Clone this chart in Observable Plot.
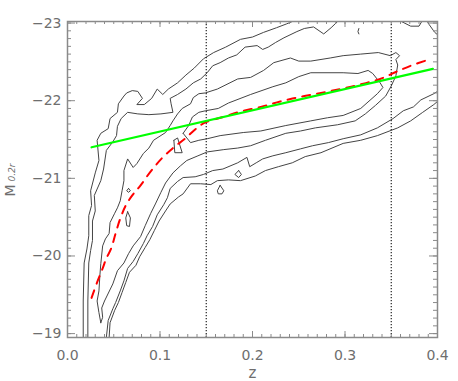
<!DOCTYPE html>
<html><head><meta charset="utf-8">
<script src="https://cdn.jsdelivr.net/npm/d3@7"></script>
<script src="https://cdn.jsdelivr.net/npm/@observablehq/plot@0.6"></script>
<style>html,body{margin:0;padding:0;background:#fff;} #chart{width:458px;height:381px;}</style>
</head><body><div id="chart"></div>
<script>
// ---- data (z, M_0.2r) ----
const xMajor = [0, 0.1, 0.2, 0.3, 0.4];
const yMajor = [-23, -22, -21, -20, -19];
const xMinor = d3.range(0, 41).map(i => i / 100);
const yMinor = d3.range(190, 231).map(i => -i / 10);
const cutLines = [0.15, 0.35];

const greenLine = [[0.026,-21.40],[0.395,-22.41]];
const redCurve = [[0.026,-19.46],[0.032,-19.66],[0.038,-19.84],[0.042,-19.97],[0.047,-20.09],[0.052,-20.29],[0.057,-20.48],[0.063,-20.65],[0.070,-20.78],[0.079,-20.91],[0.090,-21.09],[0.103,-21.27],[0.116,-21.41],[0.127,-21.51],[0.138,-21.63],[0.149,-21.72],[0.168,-21.79],[0.187,-21.86],[0.209,-21.92],[0.230,-21.99],[0.252,-22.05],[0.274,-22.10],[0.295,-22.15],[0.317,-22.21],[0.338,-22.28],[0.355,-22.37],[0.371,-22.45],[0.391,-22.53]];

const contourA = [[0.017,-18.95],[0.017,-19.42],[0.018,-19.91],[0.021,-20.09],[0.023,-20.26],[0.023,-20.52],[0.026,-20.65],[0.025,-20.84],[0.030,-21.07],[0.034,-21.23],[0.032,-21.49],[0.036,-21.58],[0.044,-21.64],[0.046,-21.77],[0.054,-21.85],[0.055,-21.96],[0.061,-22.06],[0.064,-22.10],[0.070,-22.13],[0.076,-22.12],[0.081,-22.03],[0.075,-21.95],[0.083,-21.95],[0.091,-22.03],[0.097,-22.15],[0.103,-22.08],[0.109,-22.15],[0.119,-22.23],[0.128,-22.33],[0.137,-22.42],[0.147,-22.54],[0.158,-22.62],[0.171,-22.69],[0.187,-22.79],[0.200,-22.82],[0.212,-22.88],[0.226,-22.94],[0.237,-22.99],[0.243,-23.02]];
const contourB = [[0.022,-18.95],[0.022,-19.42],[0.023,-19.91],[0.025,-20.07],[0.027,-20.20],[0.027,-20.45],[0.030,-20.58],[0.029,-20.78],[0.036,-20.97],[0.039,-21.12],[0.042,-21.36],[0.049,-21.47],[0.053,-21.55],[0.054,-21.67],[0.058,-21.77],[0.065,-21.85],[0.076,-21.83],[0.088,-21.82],[0.101,-21.83],[0.114,-21.85],[0.112,-21.96],[0.111,-22.03],[0.119,-22.08],[0.128,-22.15],[0.136,-22.23],[0.144,-22.28],[0.151,-22.36],[0.157,-22.45],[0.165,-22.49],[0.174,-22.55],[0.183,-22.59],[0.192,-22.69],[0.205,-22.71],[0.211,-22.66],[0.217,-22.69],[0.225,-22.75],[0.234,-22.81],[0.248,-22.89],[0.256,-22.93],[0.266,-22.95],[0.277,-22.86],[0.285,-22.94],[0.292,-23.02]];
const contourC = [[0.036,-19.14],[0.034,-19.27],[0.032,-19.42],[0.034,-19.55],[0.035,-19.75],[0.036,-19.90],[0.038,-20.13],[0.041,-20.22],[0.045,-20.29],[0.046,-20.43],[0.051,-20.55],[0.054,-20.62],[0.057,-20.71],[0.059,-20.84],[0.061,-20.97],[0.061,-21.10],[0.065,-21.25],[0.071,-21.14],[0.075,-21.19],[0.082,-21.32],[0.088,-21.39],[0.093,-21.49],[0.106,-21.59],[0.111,-21.68],[0.114,-21.74],[0.119,-21.83],[0.124,-21.90],[0.133,-21.96],[0.136,-22.04],[0.142,-22.09],[0.149,-22.10],[0.162,-22.15],[0.184,-22.28],[0.198,-22.30],[0.212,-22.39],[0.223,-22.49],[0.241,-22.55],[0.250,-22.51],[0.263,-22.51],[0.284,-22.55],[0.298,-22.58],[0.317,-22.60],[0.336,-22.62],[0.349,-22.58],[0.355,-22.62],[0.359,-22.58],[0.355,-22.53],[0.357,-22.46],[0.355,-22.32],[0.350,-22.19],[0.344,-22.06],[0.333,-21.94],[0.322,-21.83],[0.311,-21.74],[0.292,-21.69],[0.268,-21.65],[0.252,-21.61],[0.236,-21.58],[0.214,-21.49],[0.198,-21.42],[0.184,-21.39],[0.169,-21.37],[0.151,-21.34],[0.141,-21.29],[0.129,-21.23],[0.122,-21.16],[0.114,-21.07],[0.106,-20.94],[0.101,-20.82],[0.095,-20.67],[0.090,-20.55],[0.084,-20.39],[0.079,-20.25],[0.071,-20.13],[0.066,-20.03],[0.061,-19.91],[0.054,-19.81],[0.049,-19.64],[0.040,-19.42],[0.037,-19.33],[0.038,-19.21],[0.036,-19.14]];
const contourE = [[0.125,-21.58],[0.131,-21.68],[0.135,-21.79],[0.142,-21.85],[0.149,-21.87],[0.163,-21.90],[0.174,-21.97],[0.198,-22.08],[0.222,-22.18],[0.236,-22.23],[0.250,-22.31],[0.263,-22.36],[0.298,-22.36],[0.314,-22.35],[0.325,-22.39],[0.330,-22.35],[0.338,-22.23],[0.341,-22.17],[0.335,-22.09],[0.317,-21.90],[0.298,-21.81],[0.281,-21.78],[0.263,-21.74],[0.236,-21.68],[0.209,-21.61],[0.190,-21.59],[0.165,-21.55],[0.151,-21.51],[0.142,-21.49],[0.133,-21.46],[0.125,-21.58]];
const contourDin = [[0.042,-18.95],[0.044,-19.17],[0.049,-19.32],[0.052,-19.40],[0.057,-19.55],[0.061,-19.68],[0.065,-19.84],[0.071,-19.93],[0.076,-20.03],[0.082,-20.16],[0.086,-20.26],[0.092,-20.38],[0.097,-20.53],[0.104,-20.66],[0.108,-20.75],[0.111,-20.87],[0.119,-20.96],[0.125,-21.01],[0.138,-21.02],[0.147,-21.05],[0.157,-21.10],[0.168,-21.12],[0.184,-21.20],[0.194,-21.27],[0.197,-21.15],[0.204,-21.20],[0.211,-21.25],[0.222,-21.29],[0.236,-21.33],[0.252,-21.38],[0.265,-21.42],[0.282,-21.46],[0.298,-21.51],[0.317,-21.56],[0.335,-21.65],[0.352,-21.77],[0.363,-21.87],[0.374,-21.92],[0.382,-22.01],[0.396,-22.09],[0.400,-22.12]];
const contourDout = [[0.045,-18.95],[0.046,-19.14],[0.051,-19.30],[0.055,-19.40],[0.059,-19.53],[0.063,-19.66],[0.067,-19.79],[0.074,-19.88],[0.078,-19.99],[0.084,-20.11],[0.089,-20.21],[0.094,-20.33],[0.099,-20.45],[0.106,-20.58],[0.111,-20.67],[0.120,-20.76],[0.125,-20.80],[0.133,-20.93],[0.144,-20.93],[0.155,-20.92],[0.162,-20.97],[0.174,-20.98],[0.187,-20.97],[0.203,-21.03],[0.214,-21.10],[0.228,-21.15],[0.243,-21.20],[0.257,-21.28],[0.274,-21.33],[0.298,-21.45],[0.317,-21.49],[0.335,-21.55],[0.357,-21.65],[0.371,-21.74],[0.384,-21.85],[0.396,-21.95],[0.400,-21.99]];
const topPiece1 = [[0.361,-23.02],[0.371,-22.96],[0.380,-22.96],[0.383,-23.02]];
const topPiece2 = [[0.389,-23.02],[0.391,-22.98],[0.397,-22.88],[0.400,-22.85]];
const topTick = [[0.315,-22.93],[0.314,-22.89],[0.315,-22.86]];
const blobTriangle = [[0.115,-21.49],[0.119,-21.52],[0.124,-21.33],[0.116,-21.33],[0.115,-21.49]];
const blobDrop = [[0.165,-20.91],[0.169,-20.84],[0.167,-20.80],[0.163,-20.80],[0.162,-20.84],[0.165,-20.91]];
const blobRing = [[0.185,-21.10],[0.188,-21.05],[0.185,-21.01],[0.181,-21.05],[0.185,-21.10]];
const blobOval = [[0.065,-20.57],[0.068,-20.49],[0.067,-20.38],[0.064,-20.39],[0.063,-20.49],[0.065,-20.57]];
const blobDot = [[0.066,-20.87],[0.068,-20.84],[0.066,-20.82],[0.064,-20.84],[0.066,-20.87]];

const contourSet = {contourA, contourB, contourC, contourE, contourDin, contourDout,
  topPiece1, topPiece2, topTick, blobTriangle, blobDrop, blobRing, blobOval, blobDot};
const contourRows = Object.entries(contourSet).flatMap(([id, pts]) => pts.map(([z, M]) => ({id, z, M})));
const greenRows = greenLine.map(([z, M]) => ({z, M}));
const redRows = redCurve.map(([z, M]) => ({z, M}));

const W = 458, H = 381, mL = 67, mR = 21, mT = 21, mB = 44;
const iW = W - mL - mR, iH = H - mT - mB;
const axisGray = "#8a8a8a";

const chart = Plot.plot({
  width: W, height: H,
  marginLeft: mL, marginRight: mR, marginTop: mT, marginBottom: mB,
  x: {domain: [0, 0.4]},
  y: {domain: [-18.95, -23.02]},
  style: {fontFamily: "DejaVu Sans", fontSize: "14px", color: "#6e6e6e", background: "white", overflow: "visible"},
  marks: [
    Plot.line(contourRows, {x: "z", y: "M", z: "id", stroke: "#444", strokeWidth: 1, clip: true}),
    Plot.ruleX(cutLines, {x: d => d, stroke: "#222", strokeWidth: 1.2, strokeDasharray: "1.2,1.8"}),
    Plot.line(redRows, {x: "z", y: "M", stroke: "#ff0000", strokeWidth: 2, strokeDasharray: "8,7", curve: "catmull-rom"}),
    Plot.line(greenRows, {x: "z", y: "M", stroke: "#00ff00", strokeWidth: 2.2}),
    Plot.frame({stroke: axisGray, strokeWidth: 1.5}),
    Plot.tickX(xMinor, {x: d => d, insetTop: iH - 3, stroke: axisGray}),
    Plot.tickX(xMajor, {x: d => d, insetTop: iH - 6, stroke: axisGray}),
    Plot.tickX(xMinor, {x: d => d, insetBottom: iH - 3, stroke: axisGray}),
    Plot.tickX(xMajor, {x: d => d, insetBottom: iH - 6, stroke: axisGray}),
    Plot.tickY(yMinor, {y: d => d, insetRight: iW - 4, stroke: axisGray}),
    Plot.tickY(yMajor, {y: d => d, insetRight: iW - 8, stroke: axisGray}),
    Plot.tickY(yMinor, {y: d => d, insetLeft: iW - 4, stroke: axisGray}),
    Plot.tickY(yMajor, {y: d => d, insetLeft: iW - 8, stroke: axisGray}),
    Plot.axisX(xMajor, {tickSize: 0, tickPadding: 13, tickFormat: d => d.toFixed(1), label: null, fontSize: 14}),
    Plot.axisY(yMajor, {tickSize: 0, tickPadding: 6, tickFormat: d => "\u2212" + Math.abs(d), label: null, fontSize: 14}),
    Plot.text(["z"], {text: d => d, frameAnchor: "bottom", dy: 40, fontSize: 15}),
    Plot.text(["M"], {text: d => d, frameAnchor: "left", rotate: -90, dx: -57, dy: 17, fontSize: 14}),
    Plot.text(["0.2r"], {text: d => d, frameAnchor: "left", rotate: -90, dx: -55, dy: 2, fontSize: 9, fontStyle: "italic"})
  ]
});
document.getElementById("chart").appendChild(chart);
</script>
</body></html>
